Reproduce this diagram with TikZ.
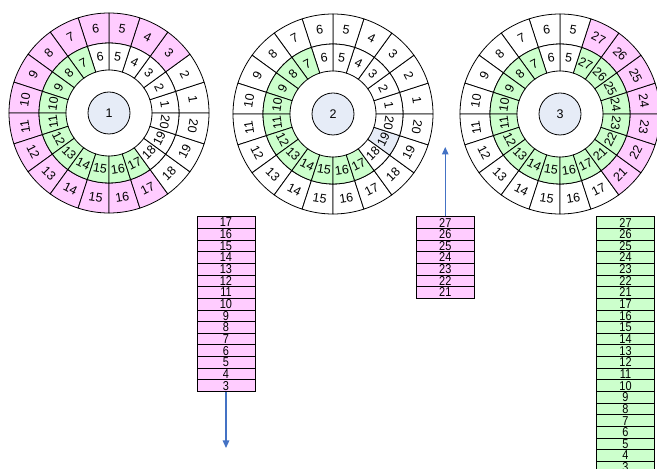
\documentclass[tikz,border=0pt]{standalone}
\usepackage{fontspec}
\usepackage{graphicx}
\setmainfont{Liberation Sans}
\usetikzlibrary{arrows.meta}

\definecolor{pinkfill}{HTML}{FFCCFF}
\definecolor{greenfill}{HTML}{CCFFCC}
\definecolor{hubfill}{HTML}{E6ECF7}
\definecolor{arrowblue}{HTML}{4472C4}

\tikzset{
  ring/.style={draw=black, line width=0.8pt},
  seglabel/.style={font=\fontsize{12.5}{12.5}\selectfont, inner sep=0pt},
  hub/.style={circle, draw=black, line width=0.8pt, fill=hubfill, minimum size=42pt,
              inner sep=0pt, font=\fontsize{12.5}{12.5}\selectfont},
  stackcell/.style={draw=black, line width=0.7pt, minimum width=58pt, minimum height=11.65pt,
                    inner sep=0pt, font=\fontsize{11.5}{11.5}\selectfont},
  flow/.style={draw=arrowblue, line width=1.3pt, -{Triangle[width=6.5pt,length=7.5pt]}}
}

% narrow, tall digits used in the stacks
\newcommand{\tallnum}[1]{\scalebox{0.95}[1.12]{#1}}

% one ring segment: name, index (1..20), inner radius, outer radius, fill, text
\newcommand{\segment}[6]{%
  \pgfmathsetmacro\segA{18*(#2-1)}%
  \pgfmathsetmacro\segB{18*#2}%
  \pgfmathsetmacro\segM{18*#2-9}%
  \pgfmathsetmacro\segR{(#3+#4)/2}%
  \pgfmathsetmacro\segT{\segM-90}%
  \pgfmathsetmacro\segT{\segT>180 ? \segT-360 : \segT}%
  \pgfmathsetmacro\segT{\segT<-100 ? \segT+180 : (\segT>100 ? \segT-180 : \segT)}%
  \filldraw[ring, fill=#5] (\segA:#3pt) -- (\segA:#4pt)
    arc[start angle=\segA, end angle=\segB, radius=#4pt] -- (\segB:#3pt)
    arc[start angle=\segB, end angle=\segA, radius=#3pt] -- cycle;
  \node[seglabel, rotate=\segT] (#1) at (\segM:\segR pt) {#6};
}

% chooses a fill: index, low, high, colour inside [low,high], colour outside
\newcommand{\pickfill}[5]{%
  \ifnum#1<#2\relax\def\cellfill{#5}\else
    \ifnum#1>#3\relax\def\cellfill{#5}\else\def\cellfill{#4}\fi\fi}

\begin{document}
\begin{tikzpicture}[x=1pt, y=1pt]
\useasboundingbox (0,0) rectangle (657,469);
\clip (0,0) rectangle (657,469);

% wheel 1
\begin{scope}[shift={(109,356)}]
  \foreach \k in {1,...,20}{
    \pickfill{\k}{3}{17}{pinkfill}{white}
    \segment{w1o\k}{\k}{70}{100}{\cellfill}{\k}
    \pickfill{\k}{7}{17}{greenfill}{white}
    \segment{w1i\k}{\k}{43}{70}{\cellfill}{\k}
  }
  \node[hub] (hub1) at (0,0) {1};
\end{scope}

% wheel 2
\begin{scope}[shift={(333,355)}]
  \foreach \k in {1,...,20}{
    \segment{w2o\k}{\k}{70}{100}{white}{\k}
    \pickfill{\k}{7}{17}{greenfill}{white}
    \ifnum\k=19 \def\cellfill{hubfill}\fi
    \segment{w2i\k}{\k}{43}{70}{\cellfill}{\k}
  }
  \node[hub] (hub2) at (0,0) {2};
\end{scope}

% wheel 3
\begin{scope}[shift={(560,355)}]
  \foreach \k in {1,...,20}{
    \pgfmathtruncatemacro\lab{\k>17 ? \k+3 : (\k<5 ? \k+23 : \k)}
    \pickfill{\k}{5}{17}{white}{pinkfill}
    \segment{w3o\k}{\k}{70}{100}{\cellfill}{\lab}
    \pickfill{\k}{5}{6}{white}{greenfill}
    \segment{w3i\k}{\k}{43}{70}{\cellfill}{\lab}
  }
  \node[hub] (hub3) at (0,0) {3};
\end{scope}

% stacks
\foreach \lab [count=\i] in {17,16,15,14,13,12,11,10,9,8,7,6,5,4,3}
  \node[stackcell, fill=pinkfill] (s1r\i) at (226, 252.3-11.65*\i+5.825) {\tallnum{\lab}};
\foreach \lab [count=\i] in {27,26,25,24,23,22,21}
  \node[stackcell, fill=pinkfill] (s2r\i) at (445.25, 252.3-11.65*\i+5.825) {\tallnum{\lab}};
\foreach \lab [count=\i] in {27,26,25,24,23,22,21,17,16,15,14,13,12,11,10,9,8,7,6,5,4,3}
  \node[stackcell, fill=greenfill] (s3r\i) at (625.5, 252.3-11.65*\i+5.825) {\tallnum{\lab}};

% arrows
\coordinate (a1end) at (226,21);
\coordinate (a2end) at (445.25,322);
\draw[flow] (s1r15.south) -- (a1end);
\draw[flow] (s2r1.north) -- (a2end);
\end{tikzpicture}
\end{document}
